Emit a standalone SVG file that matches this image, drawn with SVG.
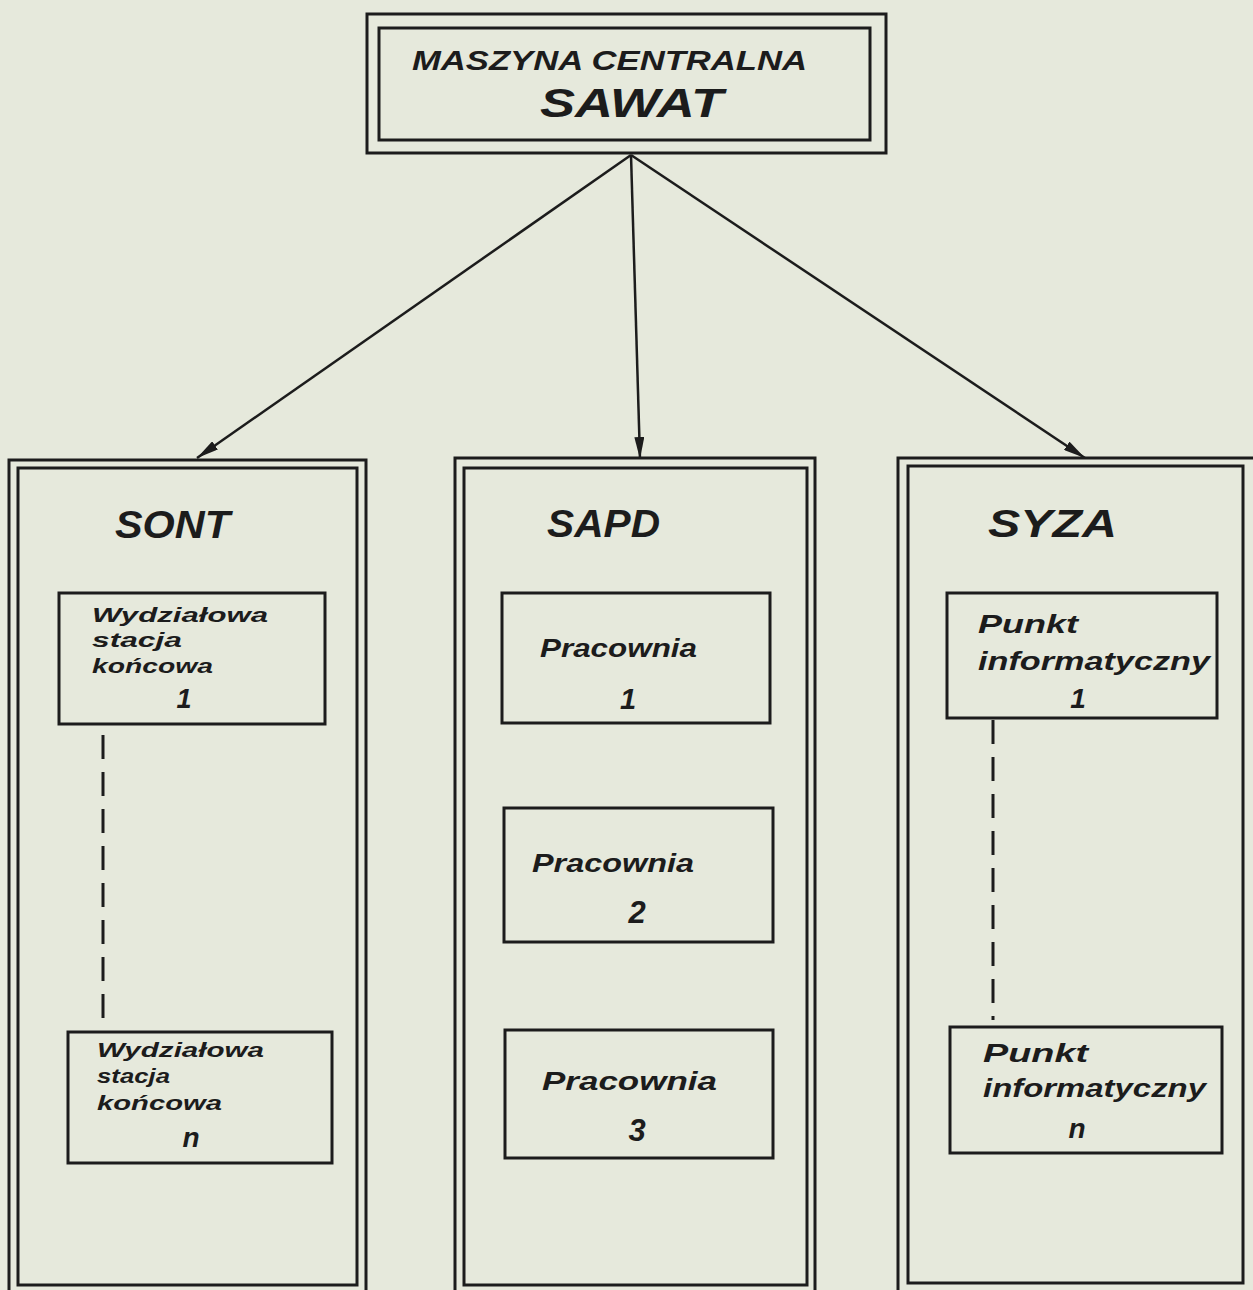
<svg xmlns="http://www.w3.org/2000/svg" width="1253" height="1290" viewBox="0 0 1253 1290">
<defs>
<style>
.bg{fill:#e6e9dc}
.frame{fill:none;stroke:#1c1c1c;stroke-width:3}
.t{font-family:"Liberation Sans","DejaVu Sans",sans-serif;font-style:italic;font-weight:bold;fill:#1c1c1c}
.dash{fill:none;stroke:#1c1c1c;stroke-width:3;stroke-dasharray:24 13}
.conn{fill:none;stroke:#1c1c1c;stroke-width:2.5}
</style>
<marker id="arr" viewBox="0 0 22 10" refX="22" refY="5" markerWidth="22" markerHeight="10" markerUnits="userSpaceOnUse" orient="auto">
<path d="M0,0 L22,5 L0,10 Z" fill="#1c1c1c"/>
</marker>
</defs>
<rect class="bg" x="0" y="0" width="1253" height="1290"/>

<g id="connectors">
<line class="conn" x1="631" y1="155" x2="197" y2="458" marker-end="url(#arr)"/>
<line class="conn" x1="631" y1="155" x2="640" y2="459" marker-end="url(#arr)"/>
<line class="conn" x1="631" y1="155" x2="1085" y2="458" marker-end="url(#arr)"/>
<line class="dash" x1="103" y1="735" x2="103" y2="1018"/>
<line class="dash" x1="993" y1="720" x2="993" y2="1020"/>
</g>

<g id="sawat">
<rect class="frame" x="367" y="14" width="519" height="139"/>
<rect class="frame" x="379" y="28" width="491" height="112"/>
<text class="t" x="412" y="70" font-size="28" textLength="395" lengthAdjust="spacingAndGlyphs">MASZYNA CENTRALNA</text>
<text class="t" x="540" y="117" font-size="40" textLength="183" lengthAdjust="spacingAndGlyphs">SAWAT</text>
</g>

<g id="sont">
<rect class="frame" x="9" y="460" width="357" height="840"/>
<rect class="frame" x="18" y="468" width="339" height="817"/>
<text class="t" x="115" y="538" font-size="38" textLength="115" lengthAdjust="spacingAndGlyphs">SONT</text>
</g>
<g id="sont-1">
<rect class="frame" x="59" y="593" width="266" height="131"/>
<text class="t" x="92" y="622" font-size="21" textLength="176" lengthAdjust="spacingAndGlyphs">Wydziałowa</text>
<text class="t" x="92" y="647" font-size="21" textLength="90" lengthAdjust="spacingAndGlyphs">stacja</text>
<text class="t" x="92" y="673" font-size="21" textLength="121" lengthAdjust="spacingAndGlyphs">końcowa</text>
<text class="t" x="184" y="708" font-size="27" text-anchor="middle">1</text>
</g>
<g id="sont-n">
<rect class="frame" x="68" y="1032" width="264" height="131"/>
<text class="t" x="97" y="1057" font-size="21" textLength="167" lengthAdjust="spacingAndGlyphs">Wydziałowa</text>
<text class="t" x="97" y="1083" font-size="21" textLength="73" lengthAdjust="spacingAndGlyphs">stacja</text>
<text class="t" x="97" y="1110" font-size="21" textLength="125" lengthAdjust="spacingAndGlyphs">końcowa</text>
<text class="t" x="191" y="1147" font-size="28" text-anchor="middle">n</text>
</g>

<g id="sapd">
<rect class="frame" x="455" y="458" width="360" height="842"/>
<rect class="frame" x="464" y="468" width="343" height="817"/>
<text class="t" x="547" y="537" font-size="38" textLength="113" lengthAdjust="spacingAndGlyphs">SAPD</text>
</g>
<g id="pracownia-1">
<rect class="frame" x="502" y="593" width="268" height="130"/>
<text class="t" x="540" y="657" font-size="26" textLength="157" lengthAdjust="spacingAndGlyphs">Pracownia</text>
<text class="t" x="628" y="709" font-size="29" text-anchor="middle">1</text>
</g>
<g id="pracownia-2">
<rect class="frame" x="504" y="808" width="269" height="134"/>
<text class="t" x="532" y="872" font-size="26" textLength="162" lengthAdjust="spacingAndGlyphs">Pracownia</text>
<text class="t" x="637" y="923" font-size="31" text-anchor="middle">2</text>
</g>
<g id="pracownia-3">
<rect class="frame" x="505" y="1030" width="268" height="128"/>
<text class="t" x="542" y="1090" font-size="26" textLength="175" lengthAdjust="spacingAndGlyphs">Pracownia</text>
<text class="t" x="637" y="1141" font-size="31" text-anchor="middle">3</text>
</g>

<g id="syza">
<rect class="frame" x="898" y="458" width="370" height="842"/>
<rect class="frame" x="908" y="466" width="335" height="817"/>
<text class="t" x="988" y="537" font-size="38" textLength="129" lengthAdjust="spacingAndGlyphs">SYZA</text>
</g>
<g id="punkt-1">
<rect class="frame" x="947" y="593" width="270" height="125"/>
<text class="t" x="978" y="633" font-size="26" textLength="100" lengthAdjust="spacingAndGlyphs">Punkt</text>
<text class="t" x="978" y="670" font-size="26" textLength="232" lengthAdjust="spacingAndGlyphs">informatyczny</text>
<text class="t" x="1078" y="708" font-size="28" text-anchor="middle">1</text>
</g>
<g id="punkt-n">
<rect class="frame" x="950" y="1027" width="272" height="126"/>
<text class="t" x="983" y="1062" font-size="26" textLength="105" lengthAdjust="spacingAndGlyphs">Punkt</text>
<text class="t" x="983" y="1097" font-size="26" textLength="223" lengthAdjust="spacingAndGlyphs">informatyczny</text>
<text class="t" x="1077" y="1138" font-size="28" text-anchor="middle">n</text>
</g>
</svg>
